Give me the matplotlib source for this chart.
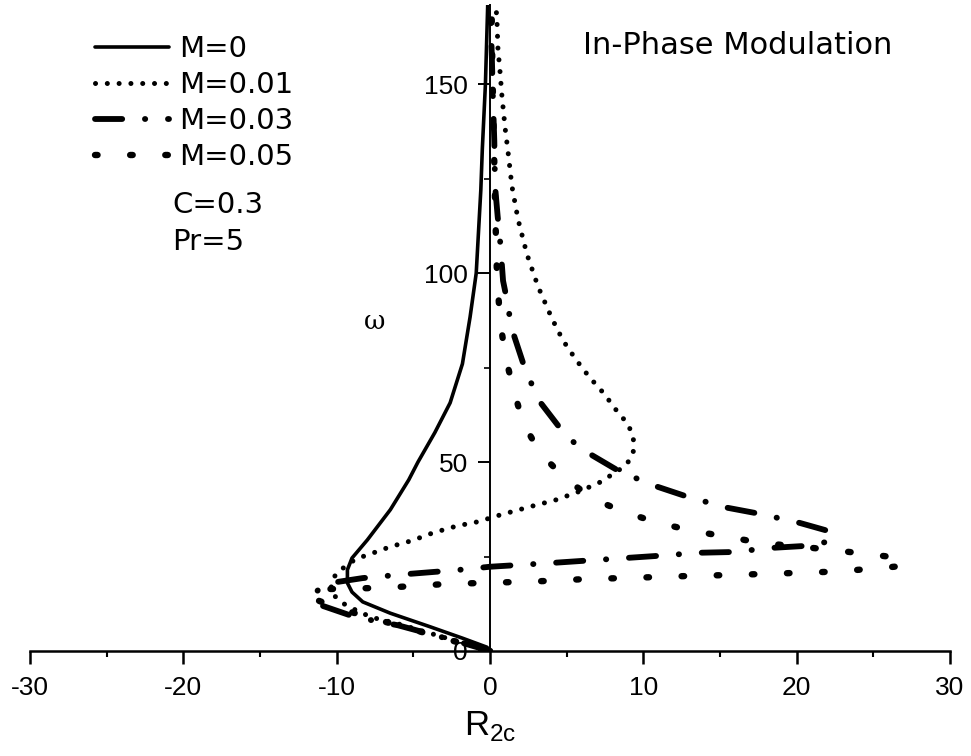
import matplotlib
matplotlib.use('Agg')
import matplotlib.pyplot as plt

# data (R2c on x, omega on y)
m0_x = [0, -0.2, -1.8, -3.9, -6.5, -8.3, -9.0, -9.3, -9.3, -9.0, -8.0, -6.5, -5.3, -4.7,
        -3.6, -2.6, -1.8, -1.3, -0.9, -0.6, -0.5, -0.3, -0.15]
m0_y = [0, 1, 3.4, 6.4, 10, 13, 15.6, 18, 21.5, 24.6, 29.4, 37.4, 45.3, 50,
        57.8, 65.7, 76, 88.4, 100, 122, 133, 150, 171]

m1_x = [0, -2, -4, -6, -7.8, -8.6, -9.26, -9.85, -10.4, -10.3, -10.0, -9.46, -8.74, -8.0,
        -6.5, -5.1, -3.7, -2.15, -0.8, 0.65, 2.8, 4.3, 5.74, 7.1, 8.35, 8.94, 9.33, 9.39,
        9.26, 8.87, 8.35, 7.44, 6.46, 5.61, 4.76, 4.04, 3.13, 2.41, 1.83, 1.43, 1.17, 0.98,
        0.78, 0.65, 0.52, 0.46, 0.39]
m1_y = [0, 2.4, 4.8, 7.2, 9.0, 10.6, 11.7, 13.5, 15.6, 18.5, 20.7, 22.3, 24.4, 25.4,
        27.6, 29.2, 31.3, 33.1, 34.2, 36.0, 38.4, 40.0, 42.1, 44.5, 47.7, 49.6, 52.2, 55.1,
        57.8, 60.7, 63.1, 68.1, 72.6, 77.1, 82.2, 88.0, 96.5, 105, 114.2, 123, 132.3, 138.6,
        146.8, 153.5, 159.3, 165.9, 171]

m3_x = [0, -2, -4, -6, -8.8, -11.1, -11.6, -11.0, -10.4, -8.3, -5.6, -2.2, 0, 2, 4.0, 6.2,
        8.8, 11.0, 13.6, 15.8, 18.4, 20.5, 22.0, 22.4, 22.3, 20.2, 17.6, 15.5, 12.9, 10.9,
        8.5, 6.7, 5.65, 4.7, 3.3, 2.7, 2.15, 1.5, 1.24, 1.0, 0.85, 0.65, 0.5, 0.33, 0.28,
        0.2, 0.1, 0.05]
m3_y = [0, 2.4, 4.6, 6.8, 9.0, 12.2, 14.5, 17.0, 18.0, 19.3, 20.3, 21.4, 22.3, 22.8, 23.3,
        23.9, 24.6, 25.2, 26.0, 26.2, 27.3, 27.8, 28.9, 30.5, 31.5, 33.9, 36.3, 37.9, 40.8,
        43.5, 47.4, 51.7, 54.5, 58.3, 65.7, 70.8, 76.3, 84.3, 89.5, 95, 98, 109, 115, 123,
        135, 145, 160, 171]

m5_x = [0, -2, -4, -6, -8, -10, -11.3, -11.7, -10.5, -7.2, -4.9, -2.67, -0.4, 1.9, 4.17,
        6.46, 8.74, 11.0, 13.3, 15.5, 17.9, 20.2, 22.4, 24.7, 26.9, 27.0, 26.8, 24.5, 22.2,
        20.0, 17.7, 15.5, 13.2, 11.0, 8.87, 6.85, 5.0, 3.3, 2.15, 1.5, 1.0, 0.65, 0.45,
        0.35, 0.25, 0.15, 0.1]
m5_y = [0, 2.2, 4.5, 6.8, 9.0, 11.5, 13.5, 15.6, 16.4, 16.7, 17.2, 17.8, 18.0, 18.3, 18.6,
        19.1, 19.3, 19.6, 19.9, 20.1, 20.4, 20.7, 21.0, 21.7, 22.5, 23.5, 24.6, 25.7, 26.8,
        27.7, 28.6, 30.2, 31.8, 33.9, 36.6, 40.0, 45.3, 52.2, 60.4, 69.7, 78, 87.7, 100,
        115, 135, 155, 171]

labels = ['M=0', 'M=0.01', 'M=0.03', 'M=0.05']
x_ticks = [-30, -20, -10, 0, 10, 20, 30]
y_ticks = [0, 50, 100, 150]

plt.rcParams['font.family'] = ['Liberation Sans', 'DejaVu Sans']

fig = plt.figure(figsize=(9.71, 7.56), dpi=100)
ax = fig.add_axes([0.0309, 0.1389, 0.9475, 0.8545])

ax.plot(m0_x, m0_y, color='black', lw=2.6, solid_capstyle='round',
        solid_joinstyle='round', label=labels[0])
ax.plot(m1_x, m1_y, color='black', lw=3.6, linestyle=(0, (0.01, 2.35)),
        dash_capstyle='round', label=labels[1])
ax.plot(m3_x, m3_y, color='black', lw=4.2, linestyle=(0, (4.66, 3.9, 0.05, 3.9)),
        dash_capstyle='round', label=labels[2])
ax.plot(m5_x, m5_y, color='black', lw=4.6, linestyle=(0, (0.4, 5.1)),
        dash_capstyle='round', label=labels[3])

ax.set_xlim(-30, 30)
ax.set_ylim(0, 171)

ax.spines['top'].set_visible(False)
ax.spines['right'].set_visible(False)
ax.spines['left'].set_position(('data', 0))
ax.spines['left'].set_linewidth(1.4)
ax.spines['bottom'].set_linewidth(1.8)

ax.set_xticks(x_ticks)
ax.set_xticklabels([str(t) for t in x_ticks])
ax.set_xticks(range(-25, 30, 10), minor=True)
ax.set_yticks(y_ticks)
ax.set_yticklabels([str(t) for t in y_ticks])
ax.set_yticks([25, 75, 125], minor=True)
ax.tick_params(axis='x', which='major', direction='out', length=9, width=1.8,
               labelsize=19, pad=9)
ax.tick_params(axis='x', which='minor', direction='out', length=4, width=1.5)
ax.tick_params(axis='y', which='major', direction='out', length=9, width=1.4,
               labelsize=19, pad=7)
ax.tick_params(axis='y', which='minor', direction='out', length=4, width=1.2)

ax.set_xlabel(r'R$_{\mathregular{2c}}$', fontsize=25)
ax.xaxis.set_label_coords(0.5, -0.09)
ax.set_ylabel('\u03c9', fontsize=19, family='DejaVu Serif', rotation=0)
ax.yaxis.set_label_coords(0.375, 0.49)

leg = ax.legend(loc='upper left', bbox_to_anchor=(0.058, 0.972), frameon=False,
                prop={'family': 'DejaVu Sans', 'size': 21}, handlelength=2.55,
                handletextpad=0.35, labelspacing=0.28, borderaxespad=0.0)

fig.text(172 / 971, 1 - 205 / 756, 'C=0.3', fontsize=21, family='DejaVu Sans',
         va='center', ha='left')
fig.text(172 / 971, 1 - 242 / 756, 'Pr=5', fontsize=21, family='DejaVu Sans',
         va='center', ha='left')
fig.text(583 / 971, 1 - 45 / 756, 'In-Phase Modulation', fontsize=22,
         family='DejaVu Sans', va='center', ha='left')

fig.savefig('out.png', dpi=100)
